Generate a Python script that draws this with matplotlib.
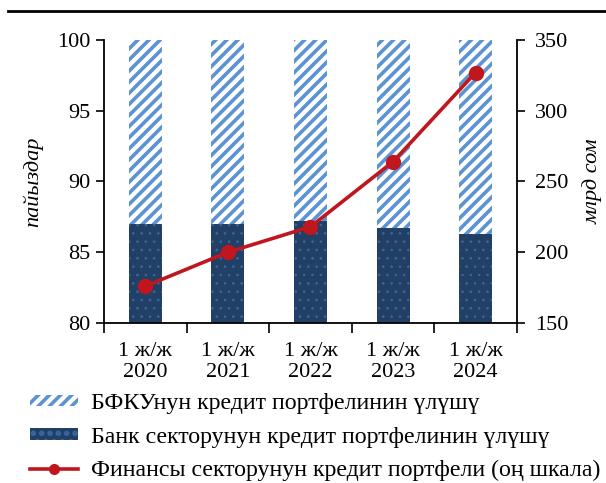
import matplotlib
matplotlib.use("Agg")
import matplotlib.pyplot as plt
from matplotlib.patches import Patch
from matplotlib.lines import Line2D
import numpy as np

plt.rcParams['font.family'] = ['Liberation Serif', 'DejaVu Serif']
plt.rcParams['hatch.linewidth'] = 2.6

categories = ["1 ж/ж\n2020", "1 ж/ж\n2021", "1 ж/ж\n2022", "1 ж/ж\n2023", "1 ж/ж\n2024"]
bank_share = [87.0, 87.0, 87.2, 86.7, 86.3]
nbfi_share = [100 - v for v in bank_share]
portfolio = [176, 200, 218, 264, 327]

label_nbfi = "БФКУнун кредит портфелинин үлүшү"
label_bank = "Банк секторунун кредит портфелинин үлүшү"
label_total = "Финансы секторунун кредит портфели (оң шкала)"

dark = "#223F66"
dot_col = "#3A68A3"
stripe = "#5B93D3"
red = "#C0161D"


def thin_dots(patch):
    # the dotted fill uses a finer hatch line than the stripes
    if hasattr(patch, 'set_hatch_linewidth'):
        patch.set_hatch_linewidth(0.6)
    return patch


fig = plt.figure(figsize=(6.06, 4.83), dpi=100)
ax = fig.add_axes([0.1716, 0.3313, 0.6814, 0.5859])
x = np.arange(len(categories))
w = 0.4

bank_bars = ax.bar(x, bank_share, width=w, bottom=0, color=dark, edgecolor=dot_col,
                   linewidth=0, hatch='..', zorder=2)
for p in bank_bars:
    thin_dots(p)
ax.bar(x, nbfi_share, width=w, bottom=bank_share, color='white',
       edgecolor=stripe, linewidth=0, hatch='///', zorder=2)

ax.set_ylim(80, 100)
ax.set_xlim(-0.5, len(categories) - 0.5)
ax.set_yticks([80, 85, 90, 95, 100])
ax.set_xticks(x)
ax.set_xticklabels(categories, fontsize=16, linespacing=1.1)
ax.set_xticks(np.arange(len(categories) + 1) - 0.5, minor=True)
ax.tick_params(axis='x', which='major', length=0, pad=14)
ax.tick_params(axis='x', which='minor', length=7, width=1.2, direction='out')
ax.tick_params(axis='y', labelsize=16, length=6, width=1.2, direction='out', pad=4)
ax.spines['top'].set_visible(False)
ax.spines['right'].set_visible(False)
for s in ('left', 'bottom'):
    ax.spines[s].set_linewidth(1.3)
ax.set_ylabel("пайыздар", fontsize=16, style='italic', labelpad=10)

ax2 = ax.twinx()
ax2.plot(x, portfolio, color=red, linewidth=2.6, marker='o', markersize=10,
         zorder=3)
ax2.set_ylim(150, 350)
ax2.set_yticks([150, 200, 250, 300, 350])
ax2.tick_params(axis='y', labelsize=16, length=6, width=1.2, direction='out', pad=7)
for s in ('top', 'left', 'bottom'):
    ax2.spines[s].set_visible(False)
ax2.spines['right'].set_linewidth(1.3)
ax2.set_ylabel("млрд сом", fontsize=16, style='italic', rotation=90, labelpad=10)

# rule across the top of the figure
fig.add_artist(Line2D([0.013, 1.0], [0.977, 0.977], transform=fig.transFigure,
                      color='black', linewidth=2))

h1 = Patch(facecolor='white', edgecolor=stripe, hatch='///', linewidth=0)
h2 = thin_dots(Patch(facecolor=dark, edgecolor=dot_col, hatch='..', linewidth=0))
h3 = Line2D([], [], color=red, linewidth=2.6, marker='o', markersize=7)
fig.legend([h1, h2, h3], [label_nbfi, label_bank, label_total],
           loc='upper left', bbox_to_anchor=(0.0495, 0.186), frameon=False,
           fontsize=17.2, handlelength=2.0, handleheight=0.34,
           handletextpad=0.55, labelspacing=0.52, borderaxespad=0, borderpad=0)

fig.savefig("out.png", dpi=100)
